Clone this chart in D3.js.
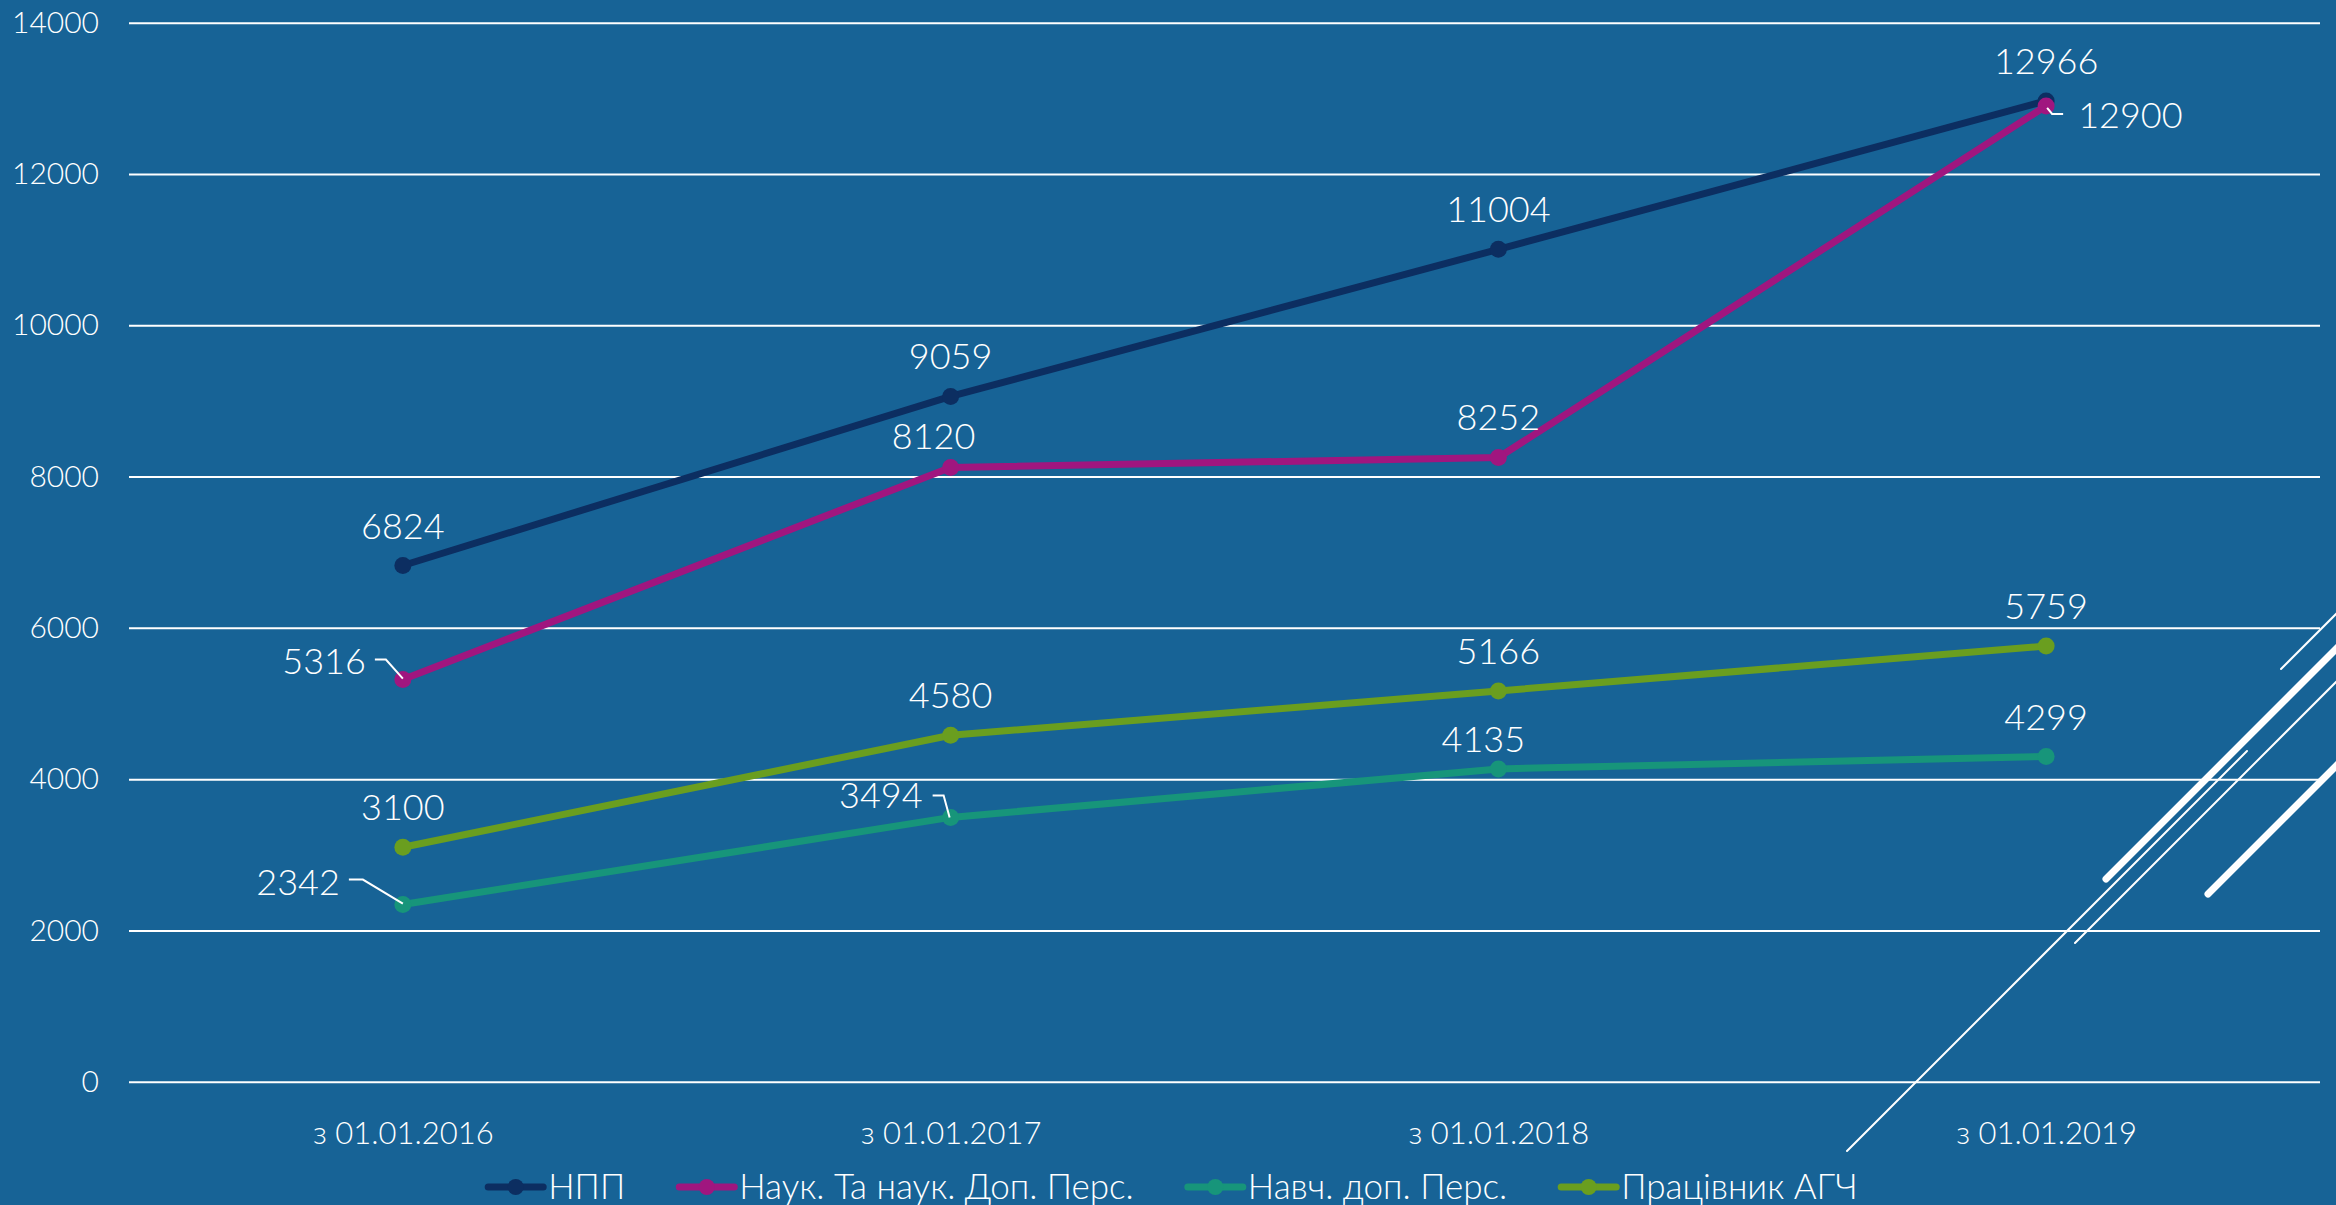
<!DOCTYPE html>
<html>
<head>
<meta charset="utf-8">
<script src="https://cdn.jsdelivr.net/npm/d3@7"></script>
<style>
  html, body { margin: 0; padding: 0; background: #176396; }
  svg { display: block; font-family: Lato, "Noto Sans", sans-serif; font-weight: 300; }
</style>
</head>
<body>
<div id="chart"></div>
<script>
// categories (x axis)
const categories = ["з 01.01.2016", "з 01.01.2017", "з 01.01.2018", "з 01.01.2019"];

// series names
const seriesNames = ["НПП", "Наук. Та наук. Доп. Перс.", "Навч. доп. Перс.", "Працівник АГЧ"];

// series values
const npp = [6824, 9059, 11004, 12966];
const naukPers = [5316, 8120, 8252, 12900];
const navchPers = [2342, 3494, 4135, 4299];
const agch = [3100, 4580, 5166, 5759];

// y ticks
const yTicks = [0, 2000, 4000, 6000, 8000, 10000, 12000, 14000];

const seriesColors = ["#0c2e61", "#a0167f", "#17957a", "#6a9e1f"];

const series = [npp, naukPers, navchPers, agch].map((values, i) => ({
  name: seriesNames[i],
  color: seriesColors[i],
  values: values.map((v, j) => ({cat: categories[j], value: v, idx: j}))
}));

/* Dimensions */
const width = 2336, height = 1205;
const margins = {top: 22.7, right: 16, bottom: 123.3, left: 129};

const svg = d3.select("#chart")
  .append("svg")
  .attr("width", width)
  .attr("height", height)
  .attr("viewBox", [0, 0, width, height]);

svg.append("rect")
  .attr("width", width)
  .attr("height", height)
  .attr("fill", "#176396");

/* Scales */
const xScale = d3.scalePoint()
  .domain(categories)
  .range([margins.left, width - margins.right])
  .padding(0.5);

const yScale = d3.scaleLinear()
  .domain([0, 14000])
  .range([height - margins.bottom, margins.top]);

/* Gridlines + y labels */
const yAxis = d3.axisLeft(yScale)
  .tickValues(yTicks)
  .tickSize(-(width - margins.right - margins.left))
  .tickPadding(30)
  .tickFormat(d3.format("d"));

svg.append("g")
  .attr("transform", `translate(${margins.left}, 0)`)
  .call(yAxis)
  .attr("font-family", null)
  .attr("font-size", null)
  .call(g => g.select(".domain").remove())
  .call(g => g.selectAll(".tick line").attr("stroke", "#fff").attr("stroke-width", 2))
  .call(g => g.selectAll(".tick text")
    .attr("fill", "#fff")
    .style("font-size", "30px"));

/* x labels */
const xAxis = d3.axisBottom(xScale).tickSize(0).tickPadding(40);

svg.append("g")
  .attr("transform", `translate(0, ${height - margins.bottom})`)
  .call(xAxis)
  .attr("font-family", null)
  .attr("font-size", null)
  .call(g => g.select(".domain").remove())
  .call(g => g.selectAll(".tick text")
    .attr("fill", "#fff")
    .style("font-size", "31px"));

/* Decorative diagonal lines on the right */
const deco = [
  {x: 1847, y: 1151, w: 2},
  {x: 2075, y: 943, w: 2},
  {x: 2281, y: 669, w: 2},
  {x: 2106, y: 879, w: 7},
  {x: 2208, y: 894, w: 7}
];
svg.append("g")
  .selectAll("line")
  .data(deco)
  .join("line")
    .attr("x1", d => d.x)
    .attr("y1", d => d.y)
    .attr("x2", d => d.x + 400)
    .attr("y2", d => d.y - 400)
    .attr("stroke", "#fff")
    .attr("stroke-width", d => d.w)
    .attr("stroke-linecap", "round");

/* Lines */
const line = d3.line()
  .x(d => xScale(d.cat))
  .y(d => yScale(d.value));

const seriesG = svg.append("g")
  .selectAll("g")
  .data(series)
  .join("g");

seriesG.append("path")
  .attr("d", d => line(d.values))
  .attr("fill", "none")
  .attr("stroke", d => d.color)
  .attr("stroke-width", 7)
  .attr("stroke-linejoin", "round");

seriesG.selectAll("circle")
  .data(d => d.values.map(v => ({...v, color: d.color})))
  .join("circle")
    .attr("cx", d => xScale(d.cat))
    .attr("cy", d => yScale(d.value))
    .attr("r", 8.5)
    .attr("fill", d => d.color);

/* Data labels: default centred above the point, some moved with a leader line */
const labelTweak = {
  "1-0": {anchor: "end", dx: -37, dy: -6, leader: [[-28, -20], [-17, -20], [0, -1]]},
  "1-1": {anchor: "middle", dx: -17, dy: -18},
  "1-3": {anchor: "start", dx: 32, dy: 22, leader: [[1, 2], [6, 8], [17, 8]]},
  "2-0": {anchor: "end", dx: -63, dy: -10, leader: [[-54, -25], [-40, -25], [0, -1]]},
  "2-1": {anchor: "end", dx: -28, dy: -9, leader: [[-18, -22], [-7, -22], [-1, 0]]},
  "2-2": {anchor: "middle", dx: -15, dy: -17}
};

const labels = [];
series.forEach((s, si) => s.values.forEach(v => {
  const t = labelTweak[`${si}-${v.idx}`] || {anchor: "middle", dx: 0, dy: -27};
  labels.push({x: xScale(v.cat), y: yScale(v.value), value: v.value, ...t});
}));

svg.append("g")
  .selectAll("text")
  .data(labels)
  .join("text")
    .attr("x", d => d.x + d.dx)
    .attr("y", d => d.y + d.dy)
    .attr("text-anchor", d => d.anchor)
    .attr("fill", "#fff")
    .style("font-size", "36px")
    .text(d => d.value);

const leader = d3.line();
svg.append("g")
  .selectAll("path")
  .data(labels.filter(d => d.leader))
  .join("path")
    .attr("d", d => leader(d.leader.map(p => [d.x + p[0], d.y + p[1]])))
    .attr("fill", "none")
    .attr("stroke", "#fff")
    .attr("stroke-width", 2);

/* Legend */
const legend = svg.append("g").attr("transform", "translate(0, 1187)");
const items = legend.selectAll("g")
  .data(series)
  .join("g");

items.append("line")
  .attr("x1", 0).attr("x2", 55)
  .attr("stroke", d => d.color)
  .attr("stroke-width", 7)
  .attr("stroke-linecap", "round");
items.append("circle")
  .attr("cx", 27.5)
  .attr("r", 8)
  .attr("fill", d => d.color);
items.append("text")
  .attr("x", 60)
  .attr("dy", "0.35em")
  .attr("fill", "#fff")
  .style("font-size", "35px")
  .text(d => d.name);

let offset = 0;
const widths = [];
items.each(function() {
  const w = this.getBBox().width;
  widths.push(offset);
  offset += w + 54;
});
const total = offset - 54;
const startX = 1173 - total / 2;
items.attr("transform", (d, i) => `translate(${startX + widths[i]}, 0)`);
</script>
</body>
</html>
